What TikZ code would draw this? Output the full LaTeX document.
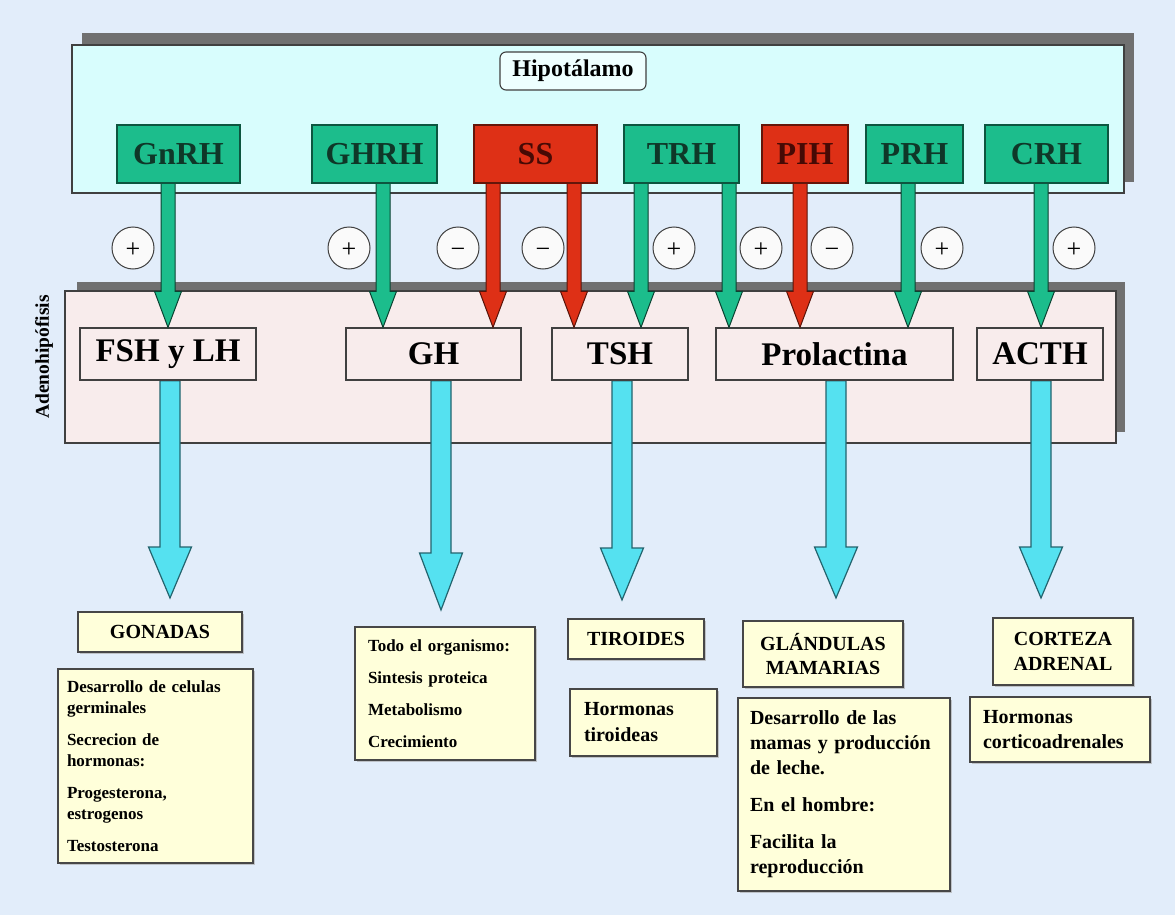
\documentclass[tikz,border=0pt]{standalone}
\usepackage{fontspec}
\setmainfont{Liberation Serif}
\usetikzlibrary{calc,shadows}
\definecolor{bg}{RGB}{226,237,250}
\definecolor{hypo}{RGB}{216,253,253}
\definecolor{shgray}{RGB}{112,112,112}
\definecolor{pinkbox}{RGB}{248,236,236}
\definecolor{hgreen}{RGB}{28,189,140}
\definecolor{hgtext}{RGB}{15,55,40}
\definecolor{hred}{RGB}{222,48,22}
\definecolor{hrtext}{RGB}{70,10,5}
\definecolor{cyanA}{RGB}{85,225,240}
\definecolor{cyanD}{RGB}{35,100,110}
\definecolor{cream}{RGB}{255,255,218}
\definecolor{hipofill}{RGB}{238,255,255}
% #1 style, #2 source, #3 tip, #4 half shaft, #5 half head, #6 head length
\newcommand\fatarrow[6]{%
  \path[#1] let \p1=(#2), \p2=(#3) in
    (\x2-#4,\y1) -- (\x2-#4,\y2+#6) -- (\x2-#5,\y2+#6) -- (\x2,\y2)
    -- (\x2+#5,\y2+#6) -- (\x2+#4,\y2+#6) -- (\x2+#4,\y1) -- cycle;}
\begin{document}
\begin{tikzpicture}[x=1pt,y=-1pt,
  region/.style={draw=black!75, line width=1.3pt, inner sep=0pt},
  hbox/.style={draw=hgreen!45!black, fill=hgreen, line width=1.3pt, minimum height=58pt,
    inner sep=0pt, text=hgtext, font=\fontsize{32}{34}\selectfont\bfseries},
  rbox/.style={hbox, draw=hred!45!black, fill=hred, text=hrtext},
  mbox/.style={draw=black!75, fill=pinkbox, line width=1.3pt, minimum height=52pt,
    inner sep=0pt, font=\fontsize{33}{35}\selectfont\bfseries},
  sign/.style={circle, draw=black!75, fill=white!96!gray, line width=1pt,
    minimum size=42pt, inner sep=0pt, font=\fontsize{26}{26}\selectfont},
  signtext/.style={inner sep=0pt, font=\fontsize{26}{26}\selectfont, anchor=base, yshift=-9pt},
  garrow/.style={fill=hgreen, draw=hgreen!35!black, line width=1pt},
  rarrow/.style={fill=hred, draw=hred!40!black, line width=1pt},
  carrow/.style={fill=cyanA, draw=cyanD, line width=1.2pt},
  lbox/.style={draw=black!72, fill=cream, line width=1.8pt, inner sep=0pt,
    font=\fontsize{20}{24}\selectfont\bfseries, align=center,
    drop shadow={shadow xshift=2pt, shadow yshift=-2pt, fill=black!35, opacity=0.6}},
  dbox/.style={lbox, align=left, inner ysep=0pt}
]
\useasboundingbox (0,0) rectangle (1175,915);
\fill[bg] (0,0) rectangle (1175,915);

% Hypothalamus region
\fill[shgray] (82,33) rectangle (1134,182);
\node[region, fill=hypo, minimum width=1052pt, minimum height=148pt] (hypo) at (598,119) {};
\node[draw=black!75, fill=hipofill, rounded corners=6pt, line width=1.1pt,
  minimum width=146pt, minimum height=38pt, inner sep=0pt,
  font=\fontsize{24}{26}\selectfont\bfseries] (hipo) at (573,71) {Hipotálamo};

% Adenohypophysis region
\fill[shgray] (77,282) rectangle (1125,432);
\node[region, fill=pinkbox, minimum width=1051pt, minimum height=152pt] (adeno) at (590.5,367) {};
\node[rotate=90, font=\fontsize{19.5}{20}\selectfont\bfseries] (adlbl) at (44,357) {Adenohipófisis};

% middle boxes
\node[mbox, minimum width=176pt] (fsh) at (168,354) {FSH y LH};
\node[mbox, minimum width=175pt] (gh) at (433.5,354) {GH};
\node[mbox, minimum width=136pt] (tsh) at (620,354) {TSH};
\node[mbox, minimum width=237pt] (prl) at (834.5,354) {Prolactina};
\node[mbox, minimum width=126pt] (acth) at (1040,354) {ACTH};

% top boxes (positions)
\path (178.5,154) coordinate (pgnrh) (374.5,154) coordinate (pghrh)
      (535.5,154) coordinate (pss) (681.5,154) coordinate (ptrh)
      (805,154) coordinate (ppih) (914.5,154) coordinate (pprh)
      (1046.5,154) coordinate (pcrh);
\coordinate (boxbottom) at (0,181);

% green / red arrows
\fatarrow{garrow}{boxbottom}{168,0 |- fsh.north}{7pt}{13.5pt}{36pt}
\fatarrow{garrow}{boxbottom}{383,0 |- gh.north}{7pt}{13.5pt}{36pt}
\fatarrow{rarrow}{boxbottom}{493,0 |- gh.north}{7pt}{13.5pt}{36pt}
\fatarrow{rarrow}{boxbottom}{574,0 |- tsh.north}{7pt}{13.5pt}{36pt}
\fatarrow{garrow}{boxbottom}{641,0 |- tsh.north}{7pt}{13.5pt}{36pt}
\fatarrow{garrow}{boxbottom}{729,0 |- prl.north}{7pt}{13.5pt}{36pt}
\fatarrow{rarrow}{boxbottom}{800,0 |- prl.north}{7pt}{13.5pt}{36pt}
\fatarrow{garrow}{boxbottom}{908,0 |- prl.north}{7pt}{13.5pt}{36pt}
\fatarrow{garrow}{boxbottom}{1041,0 |- acth.north}{7pt}{13.5pt}{36pt}

% top boxes
\node[hbox, minimum width=123pt] (gnrh) at (pgnrh) {GnRH};
\node[hbox, minimum width=125pt] (ghrh) at (pghrh) {GHRH};
\node[rbox, minimum width=123pt] (ss) at (pss) {SS};
\node[hbox, minimum width=115pt] (trh) at (ptrh) {TRH};
\node[rbox, minimum width=86pt] (pih) at (ppih) {PIH};
\node[hbox, minimum width=97pt] (prh) at (pprh) {PRH};
\node[hbox, minimum width=123pt] (crh) at (pcrh) {CRH};

% signs: circles, then the sign glyph set on a baseline below the centre
\foreach \n/\x/\s in {1/133/+, 2/349/+, 3/458/-, 4/543/-, 5/674/+, 6/761/+, 7/832/-, 8/942/+, 9/1074/+}{
  \node[sign] (s\n) at (\x,248) {};
  \if\s-
    \node[signtext] (g\n) at (s\n.center) {\char"2212};
  \else
    \node[signtext] (g\n) at (s\n.center) {+};
  \fi
}

% cyan arrows
\coordinate (ct1) at (170,598);
\coordinate (ct2) at (441,610);
\coordinate (ct3) at (622,600);
\coordinate (ct4) at (836,598);
\coordinate (ct5) at (1041,598);
\fatarrow{carrow}{fsh.south}{ct1}{10pt}{21.5pt}{51pt}
\fatarrow{carrow}{gh.south}{ct2}{10pt}{21.5pt}{57pt}
\fatarrow{carrow}{tsh.south}{ct3}{10pt}{21.5pt}{52pt}
\fatarrow{carrow}{prl.south}{ct4}{10pt}{21.5pt}{51pt}
\fatarrow{carrow}{acth.south}{ct5}{10pt}{21.5pt}{51pt}
% redraw box bottoms over arrow starts
\draw[black!75, line width=1.3pt] (fsh.south west) -- (fsh.south east);
\draw[black!75, line width=1.3pt] (gh.south west) -- (gh.south east);
\draw[black!75, line width=1.3pt] (tsh.south west) -- (tsh.south east);
\draw[black!75, line width=1.3pt] (prl.south west) -- (prl.south east);
\draw[black!75, line width=1.3pt] (acth.south west) -- (acth.south east);

% lower boxes
\node[lbox, minimum width=164pt, minimum height=40pt] (gon) at (160,632) {GONADAS};
\node[dbox, text width=177pt, inner xsep=9pt, minimum height=194pt,
  font=\fontsize{17}{21}\selectfont\bfseries] (gond) at (155.5,766)
  {Desarrollo de celulas\\ germinales\\[11pt] Secrecion de\\ hormonas:\\[11pt]
   Progesterona,\\ estrogenos\\[11pt] Testosterona};
\node[dbox, text width=154pt, inner xsep=13pt, minimum height=133pt,
  font=\fontsize{17}{21}\selectfont\bfseries] (ghd) at (445,693.5)
  {Todo el organismo:\\[11pt] Sintesis proteica\\[11pt] Metabolismo\\[11pt] Crecimiento};
\node[lbox, minimum width=136pt, minimum height=40pt] (tir) at (636,639) {TIROIDES};
\node[dbox, text width=119pt, inner xsep=14pt, minimum height=67pt,
  font=\fontsize{20}{26}\selectfont\bfseries] (tird) at (643.5,722.5)
  {Hormonas\\ tiroideas};
\node[lbox, minimum width=160pt, minimum height=66pt] (gla) at (823,654)
  {GLÁNDULAS\\ MAMARIAS};
\node[dbox, text width=188pt, inner xsep=12pt, minimum height=193pt,
  font=\fontsize{20}{25}\selectfont\bfseries] (glad) at (844,794.5)
  {Desarrollo de las\\ mamas y producción\\ de leche.\\[12pt] En el hombre:\\[12pt]
   Facilita la\\ reproducción};
\node[lbox, minimum width=140pt, minimum height=67pt,
  font=\fontsize{20}{25}\selectfont\bfseries] (cor) at (1063,651.5) {CORTEZA\\ ADRENAL};
\node[dbox, text width=154pt, inner xsep=13pt, minimum height=65pt,
  font=\fontsize{20}{25}\selectfont\bfseries] (cord) at (1060,729.5)
  {Hormonas\\ corticoadrenales};
\end{tikzpicture}
\end{document}
